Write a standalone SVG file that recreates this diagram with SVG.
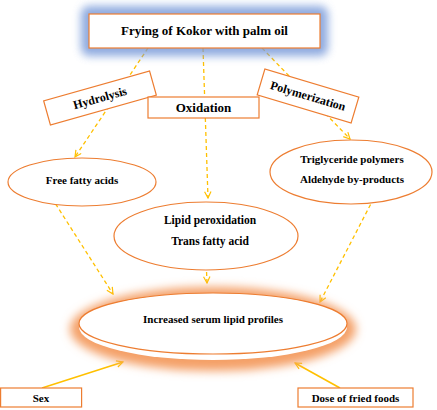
<svg xmlns="http://www.w3.org/2000/svg" width="437" height="410" viewBox="0 0 437 410">
<defs>
<filter id="blurB" x="-20%" y="-50%" width="140%" height="200%"><feGaussianBlur stdDeviation="4"/></filter>
<filter id="blurO" x="-20%" y="-50%" width="140%" height="200%"><feGaussianBlur stdDeviation="5"/></filter>
<marker id="ah" viewBox="0 0 10 10" refX="9" refY="5" markerWidth="8" markerHeight="8" markerUnits="userSpaceOnUse" orient="auto">
<polyline points="1,1 9,5 1,9" fill="none" stroke="#FFC000" stroke-width="1.5"/>
</marker>
<style>
.box{fill:#fff;stroke:#ED7D31;stroke-width:1.2}
.t{font-family:"Liberation Serif","Times New Roman",serif;font-weight:bold;fill:#000;text-anchor:middle}
.d{fill:none;stroke:#FFC000;stroke-width:1.3;stroke-dasharray:4 3}
.s{fill:none;stroke:#FFC000;stroke-width:1.6}
</style>
</defs>
<rect width="437" height="410" fill="#fff"/>
<g id="connectors">
<line class="d" x1="148" y1="48" x2="75" y2="157" marker-end="url(#ah)"/>
<line class="d" x1="203" y1="48" x2="208" y2="198" marker-end="url(#ah)"/>
<line class="d" x1="262" y1="48" x2="350" y2="139" marker-end="url(#ah)"/>
<line class="d" x1="48" y1="192" x2="113" y2="294" marker-end="url(#ah)"/>
<line class="d" x1="206" y1="258" x2="207" y2="283" marker-end="url(#ah)"/>
<line class="d" x1="377" y1="192" x2="320" y2="302" marker-end="url(#ah)"/>
<line class="s" x1="42" y1="388" x2="123" y2="362" marker-end="url(#ah)"/>
<line class="s" x1="340" y1="388" x2="295" y2="363" marker-end="url(#ah)"/>
</g>
<g id="top">
<rect x="81" y="6" width="247" height="50" rx="8" fill="#7396D8" opacity="0.8" filter="url(#blurB)"/>
<rect class="box" x="89" y="14" width="231" height="34"/>
<text class="t" x="204.5" y="35" font-size="13">Frying of Kokor with palm oil</text>
</g>
<g id="hydrolysis" transform="translate(100,98) rotate(-15.7)">
<rect class="box" x="-55" y="-12.5" width="110" height="25"/>
<text class="t" x="0" y="4" font-size="12">Hydrolysis</text>
</g>
<g id="oxidation">
<rect class="box" x="148" y="97" width="111" height="21"/>
<text class="t" x="203.5" y="112" font-size="13">Oxidation</text>
</g>
<g id="polymerization" transform="translate(308,96) rotate(16.6)">
<rect class="box" x="-49" y="-13.5" width="98" height="27"/>
<text class="t" x="0" y="4" font-size="12">Polymerization</text>
</g>
<g id="ffa">
<ellipse class="box" cx="82" cy="182" rx="74" ry="24"/>
<text class="t" x="82" y="184" font-size="11">Free fatty acids</text>
</g>
<g id="trig">
<ellipse class="box" cx="351" cy="172" rx="81" ry="32"/>
<text class="t" x="352" y="163" font-size="11">Triglyceride polymers</text>
<text class="t" x="352" y="183" font-size="11">Aldehyde by-products</text>
</g>
<g id="lipid">
<ellipse class="box" cx="206" cy="236" rx="92" ry="34"/>
<text class="t" x="210" y="224" font-size="11.5">Lipid peroxidation</text>
<text class="t" x="210" y="245" font-size="11.5">Trans fatty acid</text>
</g>
<g id="serum">
<ellipse cx="213" cy="329" rx="143" ry="42" fill="#F4A068" filter="url(#blurO)"/>
<ellipse cx="213" cy="327" rx="134" ry="33" fill="#fff"/>
<ellipse class="box" cx="213" cy="323.5" rx="134" ry="30.5"/>
<text class="t" x="213" y="323" font-size="11">Increased serum lipid profiles</text>
</g>
<g id="sex">
<rect class="box" x="0.6" y="388" width="81" height="19"/>
<text class="t" x="41" y="402" font-size="11">Sex</text>
</g>
<g id="dose">
<rect class="box" x="298" y="388" width="115" height="19"/>
<text class="t" x="355.5" y="402" font-size="11">Dose of fried foods</text>
</g>
</svg>
